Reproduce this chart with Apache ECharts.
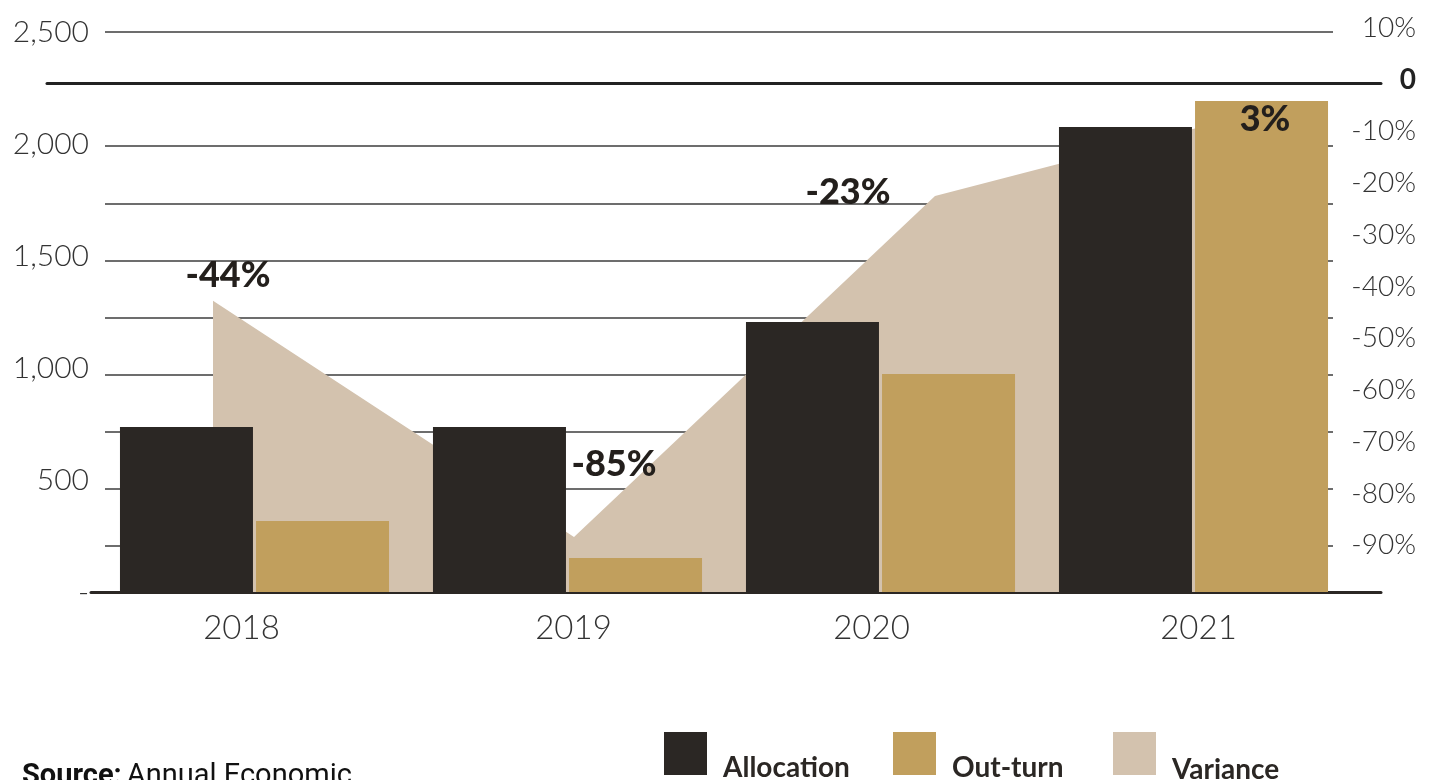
<!DOCTYPE html>
<html>
<head>
<meta charset="utf-8">
<script src="https://cdn.jsdelivr.net/npm/echarts@6/dist/echarts.min.js"></script>
<style>
html,body{margin:0;padding:0;background:#fff;}
#c{width:1436px;height:780px;}
</style>
</head>
<body>
<div id="c"></div>
<script>
// ---- data ----
var years = ['2018', '2019', '2020', '2021'];
var allocation = [737, 737, 1205, 2076];
var outturn = [317, 152, 973, 2192];
// variance as drawn (percent, right axis)
var variance = [-42.8, -89.2, -22.2, -3.8];
var varianceLabels = ['-44%', '-85%', '-23%', '3%'];
var leftTicks = [0, 500, 1000, 1500, 2000, 2500];
var rightTicks = [10, 0, -10, -20, -30, -40, -50, -60, -70, -80, -90];

var C_ALLOC = '#2b2724', C_OUT = '#c19f5d', C_VAR = '#d3c2ae';
var FONT = 'Lato';

// layout tweaks (not data)
var labelOffsets = [[15, -25], [40, -73], [-87, -4], [-31, 17]];
var yearShift = [-13, 6, -9, 5];

var splitColors = [];
for (var i = 0; i < 10; i++) splitColors.push(i === 8 ? 'rgba(0,0,0,0)' : '#3c3c3c');

function legendFor(name, left, spacer) {
  return {
    data: [name], left: left, top: 732, padding: 0,
    orient: 'horizontal', icon: 'rect', itemWidth: 43, itemHeight: 43,
    selectedMode: false,
    formatter: function (n) { return '{s| }\n{t|' + n + '}'; },
    textStyle: {
      padding: [0, 0, 0, 11],
      rich: {
        s: { fontSize: 10, lineHeight: spacer },
        t: { fontFamily: FONT, fontWeight: 'bold', fontSize: 28, color: C_ALLOC, lineHeight: 30 }
      }
    }
  };
}

var yearRich = {};
yearShift.forEach(function (s, i) {
  yearRich['y' + i] = { fontFamily: FONT, fontWeight: 300, fontSize: 33, lineHeight: 36, color: '#333',
    padding: [0, s < 0 ? -2 * s : 0, 0, s > 0 ? 2 * s : 0] };
});

var option = {
  animation: false,
  backgroundColor: '#fff',
  title: {
    left: 22, top: 762, padding: 0,
    text: '{b|Source:} {r|Annual Economic}',
    textStyle: {
      rich: {
        b: { fontFamily: 'Roboto', fontWeight: 'bold', fontSize: 29, color: '#111' },
        r: { fontFamily: 'Roboto', fontWeight: 'normal', fontSize: 29, color: '#111' }
      }
    }
  },
  legend: [
    legendFor('Allocation', 664, 28),
    legendFor('Out-turn', 893, 28),
    legendFor('Variance', 1113, 33)
  ],
  grid: [
    { left: 98, right: 86, top: 32, bottom: 188 },
    { left: 105, right: 103, top: 32, bottom: 234 },
    { left: 105, right: 103, top: 28, bottom: 183 },
    { left: 213, right: 140, top: 32, bottom: 188 },
    { left: 47, right: 55, top: 32, bottom: 188 },
    { left: 91, right: 55, top: 32, bottom: 188 }
  ],
  xAxis: [
    { gridIndex: 0, type: 'category', data: years,
      axisLine: { show: false }, axisTick: { show: false },
      axisLabel: { margin: 18, fontFamily: FONT, fontWeight: 300, fontSize: 33, lineHeight: 36, color: '#333',
        formatter: function (v, i) { return '{y' + i + '|' + v + '}'; }, rich: yearRich } },
    { gridIndex: 1, type: 'category', data: years, show: false },
    { gridIndex: 2, type: 'category', data: years, show: false },
    { gridIndex: 3, type: 'category', data: years, boundaryGap: false, show: false },
    { gridIndex: 4, type: 'category', data: years,
      axisLine: { show: true, onZero: true, lineStyle: { color: '#222', width: 3 } },
      axisTick: { show: false }, axisLabel: { show: false } },
    { gridIndex: 5, type: 'category', data: years,
      axisLine: { show: true, onZero: false, lineStyle: { color: C_ALLOC, width: 3 } },
      axisTick: { show: false }, axisLabel: { show: false } }
  ],
  yAxis: [
    { gridIndex: 0, type: 'value', min: 0, max: 2500, interval: 500, position: 'left',
      axisLine: { show: false }, axisTick: { show: false }, splitLine: { show: false },
      axisLabel: { margin: 9, align: 'right', fontFamily: FONT, fontWeight: 300, fontSize: 30, color: '#333',
        formatter: function (v) { return v === 0 ? '-' : v.toLocaleString('en-US'); } } },
    { gridIndex: 1, type: 'value', min: 250, max: 2500, interval: 250,
      axisLine: { show: false }, axisTick: { show: false }, axisLabel: { show: false },
      splitLine: { show: true, lineStyle: { color: splitColors, width: 1.5 } } },
    { gridIndex: 2, type: 'value', min: -100, max: 10, interval: 10, position: 'right',
      axisLine: { show: false }, axisTick: { show: false }, splitLine: { show: false },
      axisLabel: { margin: 83, align: 'right', fontFamily: FONT, fontWeight: 300, fontSize: 28, color: '#333',
        formatter: function (v) {
          if (rightTicks.indexOf(v) < 0) return '';
          if (v === 0) return '{z|0}';
          return v + '%';
        },
        rich: { z: { fontFamily: FONT, fontWeight: 'bold', fontSize: 28, color: '#222' } } } },
    { gridIndex: 3, type: 'value', min: -100, max: 10, show: false },
    { gridIndex: 4, type: 'value', min: -100, max: 10, show: false },
    { gridIndex: 5, type: 'value', min: 0, max: 1, show: false }
  ],
  series: [
    { name: 'Variance', type: 'line', xAxisIndex: 3, yAxisIndex: 3, data: variance,
      symbol: 'none', color: C_VAR, lineStyle: { width: 0 }, z: 1,
      areaStyle: { color: C_VAR, opacity: 1, origin: 'start' } },
    { name: 'Allocation', type: 'bar', xAxisIndex: 0, yAxisIndex: 0, data: allocation,
      color: C_ALLOC, barWidth: 133, barGap: '2.3%', z: 3 },
    { name: 'Out-turn', type: 'bar', xAxisIndex: 0, yAxisIndex: 0, data: outturn,
      color: C_OUT, barWidth: 133, barGap: '2.3%', z: 3 },
    { name: 'VarianceLabels', type: 'scatter', xAxisIndex: 3, yAxisIndex: 3, z: 10,
      symbolSize: 0, silent: true, itemStyle: { color: C_ALLOC, opacity: 1 },
      data: variance.map(function (v, i) {
        return { value: v, label: { show: true, position: 'inside', offset: labelOffsets[i],
          formatter: varianceLabels[i], fontFamily: FONT, fontWeight: 900, fontSize: 36,
          color: '#231f1c', opacity: 1, textBorderWidth: 0 } };
      }) }
  ]
};

var chart = echarts.init(document.getElementById('c'), null, { renderer: 'canvas' });
chart.setOption(option);
</script>
</body>
</html>
